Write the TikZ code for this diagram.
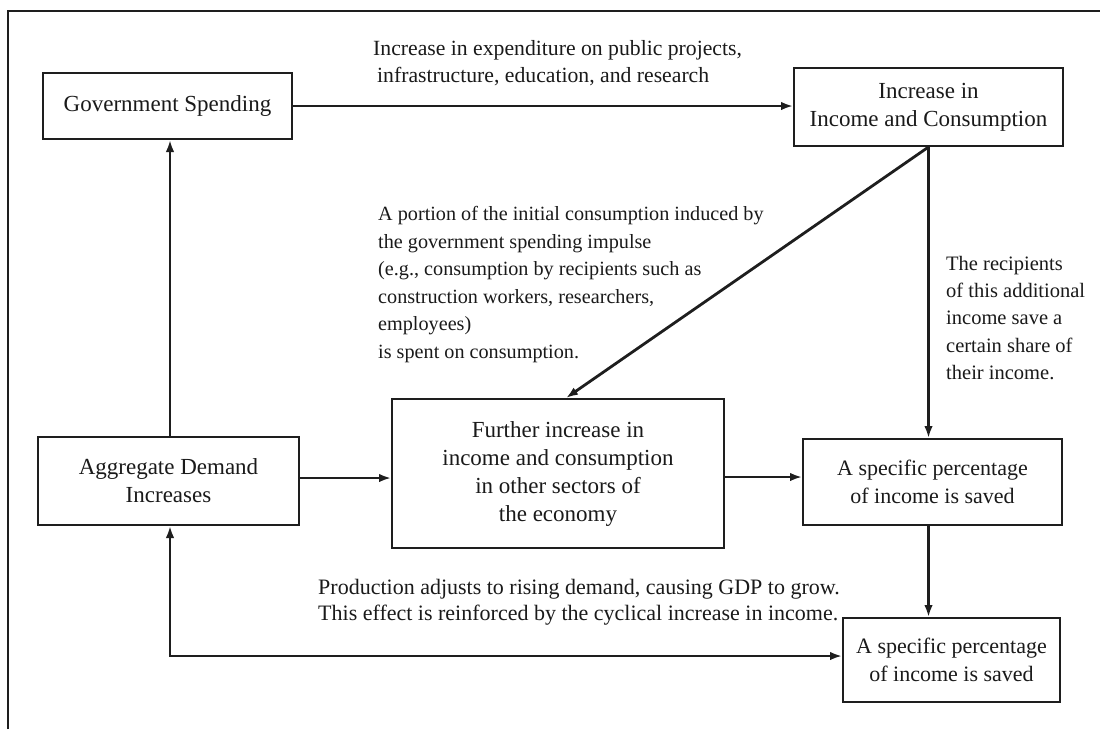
\documentclass[tikz,border=0pt]{standalone}
\usepackage{fontspec}
\setmainfont{Liberation Serif}
\usetikzlibrary{arrows.meta}
\definecolor{linec}{HTML}{1E1E1E}
\definecolor{txtc}{HTML}{1A1A1A}
\tikzset{
  box/.style={draw=linec, line width=2pt, rectangle, align=center, text=txtc, inner sep=0pt, font=\fontsize{23}{28}\selectfont},
  smallbox/.style={box, font=\fontsize{22}{28}\selectfont},
  note/.style={align=left, text=txtc, inner sep=0pt, anchor=west},
  tip/.style={Latex[length=12pt,width=8.5pt]},
  flow/.style={draw=linec, line width=2.2pt, -{Latex[length=12pt,width=8.5pt]}},
  bothflow/.style={draw=linec, line width=2.2pt, {Latex[length=12pt,width=8.5pt]}-{Latex[length=12pt,width=8.5pt]}},
}
\begin{document}
\begin{tikzpicture}[x=1pt,y=-1pt]
\useasboundingbox (0,0) rectangle (1100,729);
\fill[white] (0,0) rectangle (1100,729);
\draw[line width=2.4pt, linec] (8,729) -- (8,11) -- (1100,11);

% boxes
\node[box, minimum width=249, minimum height=66] (gov) at (167.5,106) {Government Spending};
\node[box, minimum width=269, minimum height=78] (inc) at (928.5,107) {Increase in\\Income and Consumption};
\node[box, minimum width=261, minimum height=88] (agg) at (168.5,481) {Aggregate Demand\\Increases};
\node[box, minimum width=332, minimum height=149] (fur) at (558,473.5) {Further increase in\\income and consumption\\in other sectors of\\the economy};
\node[smallbox, minimum width=259, minimum height=86] (sav1) at (932.5,482) {A specific percentage\\of income is saved};
\node[smallbox, minimum width=217, minimum height=84] (sav2) at (951.5,660) {A specific percentage\\of income is saved};

% annotations
\node[note, font=\fontsize{21.7}{27}\selectfont] (t1) at (373,63.5) {Increase in expenditure on public projects,\\\hspace{4pt}infrastructure, education, and research};
\node[note, font=\fontsize{20.2}{27.5}\selectfont] (t2) at (378,284.5) {A portion of the initial consumption induced by\\the government spending impulse\\(e.g., consumption by recipients such as\\construction workers, researchers,\\employees)\\is spent on consumption.};
\node[note, font=\fontsize{20.5}{27.2}\selectfont] (t3) at (946,318) {The recipients\\of this additional\\income save a\\certain share of\\their income.};
\node[note, font=\fontsize{22}{26}\selectfont] (t4) at (318,602) {Production adjusts to rising demand, causing GDP to grow.\\This effect is reinforced by the cyclical increase in income.};

% connectors
\coordinate (loop) at (170,656);
\coordinate (diagend) at (566,399);
\draw[flow] (gov.east) -- (inc.west |- gov.east);
\draw[flow] (agg.north -| loop) -- (gov.south -| loop);
\draw[flow] (inc.south) -- (inc.south |- sav1.north);
\draw[flow, line width=2.8pt] (inc.south) -- (diagend |- fur.north);
\draw[flow] (agg.east |- 0,478) -- (fur.west |- 0,478);
\draw[flow] (fur.east |- 0,477) -- (sav1.west |- 0,477);
\draw[flow] (inc.south |- sav1.south) -- (inc.south |- sav2.north);
\draw[bothflow] (agg.south -| loop) -- (loop) -- (loop -| sav2.west);
\end{tikzpicture}
\end{document}
